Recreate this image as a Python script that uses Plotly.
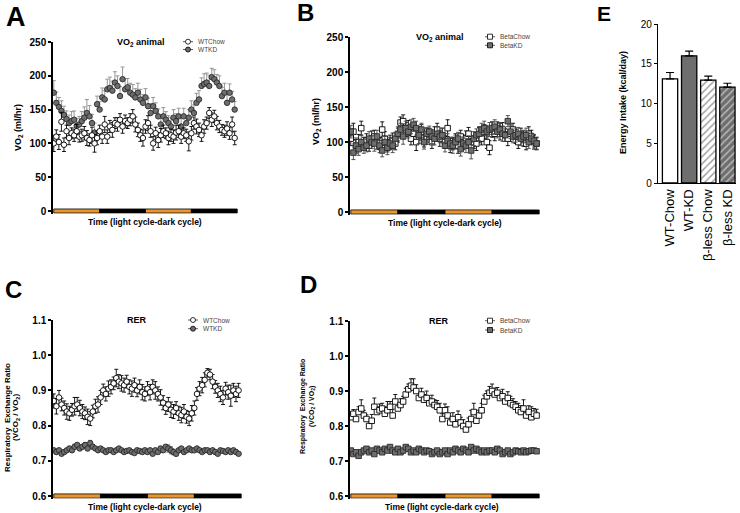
import plotly.graph_objects as go

W, H = 740, 513
FONT = "Liberation Sans"

# ---------------- data ----------------
time_idx = list(range(72))
cycle_labels = ["light", "dark", "light", "dark"]
cycle_len = 18
cycle_colors = {"light": "#E8962E", "dark": "#000000"}

# Panel A: VO2 (ml/hr), WT mice
a_wtchow = [100,110,102,132,98,118,108,115,112,118,110,112,115,108,105,112,100,108,
            118,110,128,110,125,120,130,128,135,125,133,130,135,140,128,120,112,108,
            125,130,118,100,115,105,112,118,115,108,112,110,116,118,110,115,112,103,
            115,130,125,120,112,125,130,145,135,140,130,125,120,118,122,115,128,108]
a_wtchow_err = [12,10,11,14,10,9,10,8,9,10,8,9,10,11,9,12,13,10,
                9,10,12,10,9,11,8,10,9,10,9,8,9,10,11,10,9,12,
                10,11,9,10,9,11,10,9,8,10,9,10,11,9,10,8,9,14,
                10,9,11,10,9,10,9,8,10,9,10,9,8,9,10,9,11,10]
a_wtkd = [175,160,154,148,142,136,130,133,135,126,128,133,138,145,140,130,116,158,
          150,168,165,180,182,178,190,185,170,195,180,183,175,172,168,175,165,160,
          168,155,145,155,148,140,128,140,135,130,125,138,133,140,125,140,130,138,
          150,145,160,165,185,188,190,185,198,195,190,185,170,175,160,175,165,150]
a_wtkd_err = [18,16,14,15,13,12,12,14,13,11,12,14,16,20,16,13,14,12,
              12,14,13,15,16,14,16,15,14,18,16,13,14,15,13,14,15,12,
              13,12,14,13,12,11,12,13,12,11,13,12,11,12,13,12,11,12,
              13,12,14,13,12,15,14,16,13,14,12,15,13,14,12,13,12,12]

# Panel B: VO2 (ml/hr), beta-less mice
b_betachow = [105,115,95,100,120,98,102,95,105,108,100,98,118,105,95,100,102,98,
              110,128,130,118,120,105,112,100,112,115,102,108,110,100,112,118,105,110,
              100,120,95,98,102,95,108,100,105,112,95,100,98,110,105,115,100,92,
              118,112,120,115,118,110,105,112,118,108,100,110,105,98,112,108,100,98]
b_betachow_err = [10,12,9,11,10,9,10,8,11,9,10,9,11,10,9,10,11,9,
                  10,8,9,10,11,9,10,12,9,10,9,11,10,9,10,9,11,10,
                  9,12,10,9,10,11,9,10,11,9,10,9,10,11,9,10,9,10,
                  11,10,9,12,10,9,10,11,9,10,9,10,11,9,10,9,10,9]
b_betakd = [115,85,95,90,100,92,95,105,100,98,108,95,88,100,92,98,95,105,
            112,118,108,120,115,122,125,120,110,118,100,112,115,108,105,112,108,110,
            95,102,98,95,100,105,90,98,95,100,88,105,110,112,118,120,115,118,
            120,122,115,118,112,110,130,115,108,110,112,105,108,110,100,105,102,98]
b_betakd_err = [9,10,11,9,10,8,9,10,9,11,9,10,9,8,10,9,10,9,
                10,9,11,10,9,10,9,10,12,9,10,9,8,10,9,10,9,10,
                9,10,9,11,10,9,10,9,10,9,12,10,9,10,9,10,9,10,
                9,10,9,10,11,9,8,10,9,10,9,10,9,10,9,8,9,8]

# Panel C: RER, WT mice
c_wtchow = [0.870,0.855,0.880,0.860,0.850,0.840,0.835,0.845,0.855,0.860,0.850,0.840,0.835,0.825,0.820,0.840,0.855,0.860,
            0.880,0.900,0.890,0.905,0.910,0.920,0.935,0.925,0.920,0.915,0.925,0.910,0.905,0.915,0.900,0.910,0.895,0.890,
            0.905,0.895,0.910,0.900,0.890,0.880,0.865,0.850,0.860,0.845,0.840,0.850,0.835,0.830,0.840,0.825,0.820,0.835,
            0.850,0.890,0.905,0.915,0.930,0.950,0.945,0.925,0.910,0.900,0.890,0.880,0.905,0.895,0.885,0.900,0.890,0.900]
c_wtchow_err = [0.020,0.022,0.020,0.018,0.020,0.022,0.020,0.018,0.025,0.020,0.022,0.020,0.018,0.022,0.020,0.018,0.020,0.022,
                0.020,0.018,0.020,0.022,0.020,0.018,0.025,0.020,0.022,0.020,0.018,0.020,0.022,0.020,0.018,0.020,0.022,0.020,
                0.020,0.022,0.020,0.025,0.020,0.022,0.020,0.018,0.020,0.022,0.020,0.018,0.020,0.022,0.020,0.018,0.020,0.022,
                0.020,0.018,0.020,0.022,0.020,0.012,0.015,0.020,0.018,0.020,0.022,0.020,0.018,0.020,0.030,0.020,0.022,0.020]
c_wtkd = [0.730,0.725,0.730,0.720,0.725,0.730,0.735,0.730,0.740,0.745,0.735,0.740,0.745,0.735,0.750,0.740,0.735,0.730,
          0.735,0.730,0.725,0.730,0.730,0.725,0.730,0.735,0.730,0.725,0.728,0.730,0.725,0.722,0.730,0.728,0.725,0.730,
          0.725,0.730,0.720,0.730,0.725,0.735,0.730,0.740,0.735,0.730,0.725,0.720,0.730,0.735,0.725,0.730,0.735,0.730,
          0.730,0.735,0.730,0.725,0.730,0.730,0.725,0.730,0.725,0.720,0.730,0.728,0.725,0.730,0.725,0.730,0.725,0.720]
c_wtkd_err = [0.005,0.006,0.005,0.004,0.006,0.005,0.006,0.005,0.007,0.006,0.005,0.006,0.007,0.006,0.008,0.006,0.005,0.006,
              0.005,0.004,0.005,0.004,0.005,0.004,0.005,0.004,0.005,0.004,0.005,0.004,0.005,0.004,0.005,0.004,0.005,0.004,
              0.005,0.004,0.005,0.004,0.005,0.006,0.005,0.006,0.010,0.010,0.008,0.006,0.005,0.004,0.005,0.004,0.005,0.004,
              0.005,0.004,0.005,0.004,0.005,0.004,0.005,0.004,0.005,0.004,0.005,0.004,0.005,0.004,0.005,0.004,0.005,0.004]

# Panel D: RER, beta-less mice
d_betachow = [0.825,0.835,0.820,0.840,0.850,0.830,0.820,0.800,0.815,0.855,0.840,0.845,0.850,0.835,0.845,0.855,0.830,0.870,
              0.850,0.860,0.870,0.890,0.905,0.915,0.910,0.900,0.880,0.890,0.875,0.880,0.865,0.870,0.860,0.855,0.845,0.820,
              0.845,0.830,0.810,0.820,0.805,0.825,0.810,0.800,0.790,0.805,0.820,0.840,0.815,0.830,0.845,0.870,0.885,0.895,
              0.900,0.890,0.895,0.880,0.885,0.870,0.880,0.865,0.860,0.855,0.845,0.840,0.850,0.830,0.840,0.825,0.835,0.830]
d_betachow_err = [0.015,0.012,0.018,0.015,0.025,0.015,0.012,0.015,0.018,0.025,0.015,0.018,0.015,0.020,0.025,0.015,0.018,0.020,
                  0.015,0.018,0.015,0.018,0.015,0.020,0.025,0.018,0.015,0.018,0.015,0.020,0.015,0.018,0.015,0.018,0.020,0.015,
                  0.018,0.025,0.015,0.018,0.020,0.018,0.015,0.018,0.015,0.018,0.025,0.025,0.018,0.015,0.020,0.018,0.015,0.018,
                  0.020,0.018,0.015,0.018,0.020,0.015,0.018,0.020,0.018,0.015,0.020,0.018,0.025,0.015,0.018,0.030,0.015,0.018]
d_betakd = [0.730,0.720,0.725,0.715,0.725,0.730,0.735,0.725,0.730,0.720,0.735,0.730,0.725,0.735,0.730,0.740,0.730,0.725,
            0.735,0.725,0.730,0.740,0.735,0.725,0.730,0.725,0.735,0.730,0.725,0.730,0.728,0.720,0.725,0.730,0.720,0.725,
            0.730,0.720,0.730,0.725,0.735,0.730,0.725,0.735,0.730,0.725,0.740,0.730,0.735,0.730,0.725,0.730,0.725,0.730,
            0.730,0.725,0.735,0.730,0.720,0.725,0.730,0.720,0.725,0.730,0.728,0.725,0.730,0.725,0.728,0.730,0.730,0.728]
d_betakd_err = [0.004]*72

# Panel E: energy intake
e_categories = ["WT-Chow", "WT-KD", "β-less Chow", "β-less KD"]
e_values = [13.1, 16.0, 12.95, 12.05]
e_err = [0.8, 0.6, 0.5, 0.5]
e_fill = ["#ffffff", "#6e6e6e", "#ffffff", "#6e6e6e"]
e_hatch = ["", "", "/", "/"]

# ---------------- helpers ----------------
def px(x):
    return x / W

def py(y):
    return 1 - y / H

fig = go.Figure()

def series(xa, ya, y, err, up_only, symbol, fill, edge, errcolor):
    ed = dict(type="data", array=err, color=errcolor, thickness=0.9, width=2)
    if up_only:
        ed.update(symmetric=False, arrayminus=[0] * len(err))
    fig.add_trace(go.Scatter(
        x=time_idx, y=y, mode="markers", xaxis=xa, yaxis=ya, showlegend=False,
        marker=dict(symbol=symbol, size=5.5, color=fill, line=dict(color=edge, width=0.9)),
        error_y=ed))

GRAY = "#6e6e6e"
series("x", "y", a_wtkd, a_wtkd_err, True, "circle", GRAY, "#2a2a2a", "#8c8c8c")
series("x", "y", a_wtchow, a_wtchow_err, False, "circle", "white", "black", "black")
series("x2", "y2", b_betachow, b_betachow_err, False, "square", "white", "black", "black")
series("x2", "y2", b_betakd, b_betakd_err, False, "square", GRAY, "#2a2a2a", "#444444")
series("x3", "y3", c_wtchow, c_wtchow_err, False, "circle", "white", "black", "black")
series("x3", "y3", c_wtkd, c_wtkd_err, False, "circle", GRAY, "#2a2a2a", "#444444")
series("x4", "y4", d_betachow, d_betachow_err, True, "square", "white", "black", "black")
series("x4", "y4", d_betakd, d_betakd_err, False, "square", GRAY, "#2a2a2a", "#444444")

fig.add_trace(go.Bar(
    x=e_categories, y=e_values, xaxis="x5", yaxis="y5", width=0.8, showlegend=False,
    marker=dict(color=e_fill, line=dict(color="black", width=1.3),
                pattern=dict(shape=e_hatch, fgcolor="black", size=5, solidity=0.3)),
    error_y=dict(type="data", array=e_err, symmetric=False, arrayminus=[0] * 4,
                 color="black", thickness=1.2, width=4)))

# ---------------- axes ----------------
tickf = dict(family=FONT, size=10, color="black", weight="bold")

def xax(dom):
    return dict(domain=dom, range=[-0.3, 72.3], showline=False, showticklabels=False,
                ticks="", showgrid=False, zeroline=False, automargin=False)

def yax(dom, rng, tv, fmt, anchor):
    return dict(domain=dom, range=rng, tickvals=tv, tickformat=fmt, showline=True,
                linecolor="black", linewidth=1.5, ticks="outside", ticklen=3, tickwidth=1.5,
                tickcolor="black", showgrid=False, zeroline=False, tickfont=tickf, anchor=anchor,
                automargin=False)

vo2_ticks = [0, 50, 100, 150, 200, 250]
rer_ticks = [0.6, 0.7, 0.8, 0.9, 1.0, 1.1]
fig.update_layout(
    xaxis=dict(xax([px(53), px(238)]), anchor="y"),
    yaxis=yax([py(213.7), py(42)], [-4, 250], vo2_ticks, "d", "x"),
    xaxis2=dict(xax([px(350), px(540)]), anchor="y2"),
    yaxis2=yax([py(214.8), py(37.3)], [-4, 250], vo2_ticks, "d", "x2"),
    xaxis3=dict(xax([px(53), px(242)]), anchor="y3"),
    yaxis3=yax([py(498.5), py(320)], [0.593, 1.1], rer_ticks, ".1f", "x3"),
    xaxis4=dict(xax([px(350), px(540)]), anchor="y4"),
    yaxis4=yax([py(498.5), py(321)], [0.593, 1.1], rer_ticks, ".1f", "x4"),
    xaxis5=dict(domain=[px(658), px(736)], type="category", range=[-0.63, 3.45],
                showline=True, linecolor="black", linewidth=1.3, ticks="", tickangle=-90,
                tickfont=dict(family=FONT, size=13, color="black"), anchor="y5", showgrid=False,
                automargin=False),
    yaxis5=dict(domain=[py(183), py(24)], range=[0, 20], tickvals=[0, 5, 10, 15, 20],
                showline=True, linecolor="black", linewidth=1.3, ticks="outside", ticklen=3,
                tickwidth=1.3, tickcolor="black", showgrid=False, zeroline=False,
                tickfont=dict(family=FONT, size=10, color="black"), anchor="x5",
                automargin=False),
)

# ---------------- light/dark cycle bars ----------------
shapes = []
for xa, ya, base, h in [("x", "y", 0, 3), ("x2", "y2", 0, 3),
                        ("x3", "y3", 0.6, 0.006), ("x4", "y4", 0.6, 0.006)]:
    for i, lab in enumerate(cycle_labels):
        shapes.append(dict(type="rect", xref=xa, yref=ya, x0=i * cycle_len, x1=(i + 1) * cycle_len,
                           y0=base - h, y1=base + h,
                           fillcolor=cycle_colors[lab], line=dict(color="black", width=0.8),
                           layer="above"))

# ---------------- legends (drawn manually) ----------------
annos = []
def legend_item(x, y, symbol, fill, text):
    shapes.append(dict(type="line", xref="paper", yref="paper", x0=px(x - 5), x1=px(x + 5),
                       y0=py(y), y1=py(y), line=dict(color="#333", width=0.8)))
    kind = "circle" if symbol == "circle" else "rect"
    shapes.append(dict(type=kind, xref="paper", yref="paper", x0=px(x - 2.5), x1=px(x + 2.5),
                       y0=py(y + 2.5), y1=py(y - 2.5), fillcolor=fill,
                       line=dict(color="black", width=0.8)))
    annos.append(dict(x=px(x + 8), y=py(y), xref="paper", yref="paper", text=text,
                      showarrow=False, xanchor="left", yanchor="middle",
                      font=dict(family=FONT, size=6.5, color="#444")))

legend_item(188, 41.7, "circle", "white", "WTChow")
legend_item(188, 49.5, "circle", GRAY, "WTKD")
legend_item(490, 36.7, "square", "white", "BetaChow")
legend_item(490, 45.3, "square", GRAY, "BetaKD")
legend_item(193, 320, "circle", "white", "WTChow")
legend_item(193, 328.7, "circle", GRAY, "WTKD")
legend_item(490, 320.7, "square", "white", "BetaChow")
legend_item(490, 330, "square", GRAY, "BetaKD")

def text(x, y, t, size, bold=True, angle=0, color="black"):
    annos.append(dict(x=px(x), y=py(y), xref="paper", yref="paper", text=t, showarrow=False,
                      xanchor="center", yanchor="middle", textangle=angle,
                      font=dict(family=FONT, size=size, color=color,
                                weight="bold" if bold else "normal")))

# panel letters
text(16, 17.5, "A", 27)
text(305, 12, "B", 24)
text(13, 289, "C", 24)
text(308, 284, "D", 24)
text(604, 13, "E", 21)

# panel titles
text(141, 43, "VO<sub>2</sub> animal", 9)
text(440, 37, "VO<sub>2</sub> animal", 9)
text(137, 320, "RER", 9)
text(439, 321, "RER", 9)

# x titles
xt = "Time (light cycle-dark cycle)"
text(145, 222, xt, 8.5)
text(445, 223, xt, 8.5)
text(145, 507, xt, 8.5)
text(442, 507, xt, 8.5)

# y titles
text(18, 128, "VO<sub>2</sub> (ml/hr)", 9, angle=-90)
text(316, 122, "VO<sub>2</sub> (ml/hr)", 9, angle=-90)
text(7, 418, "Respiratory  Exchange Ratio", 8, angle=-90)
text(16, 418, "(VCO<sub>2</sub> / VO<sub>2</sub>)", 8, angle=-90)
text(303, 407, "Respiratory  Exchange Ratio", 7, angle=-90)
text(312, 407, "(VCO<sub>2</sub> / VO<sub>2</sub>)", 7, angle=-90)
text(623, 103, "Energy Intake (kcal/day)", 9, angle=-90)

fig.update_layout(width=W, height=H, margin=dict(l=0, r=0, t=0, b=0, pad=0, autoexpand=False),
                  paper_bgcolor="white", plot_bgcolor="white",
                  shapes=shapes, annotations=annos, showlegend=False,
                  font=dict(family=FONT))

fig.write_html("out.html", config={"displayModeBar": False},
               post_script="document.body.style.margin='0';document.body.style.padding='0';"
                           "document.body.style.overflow='hidden';"
                           "document.documentElement.style.overflow='hidden';")
